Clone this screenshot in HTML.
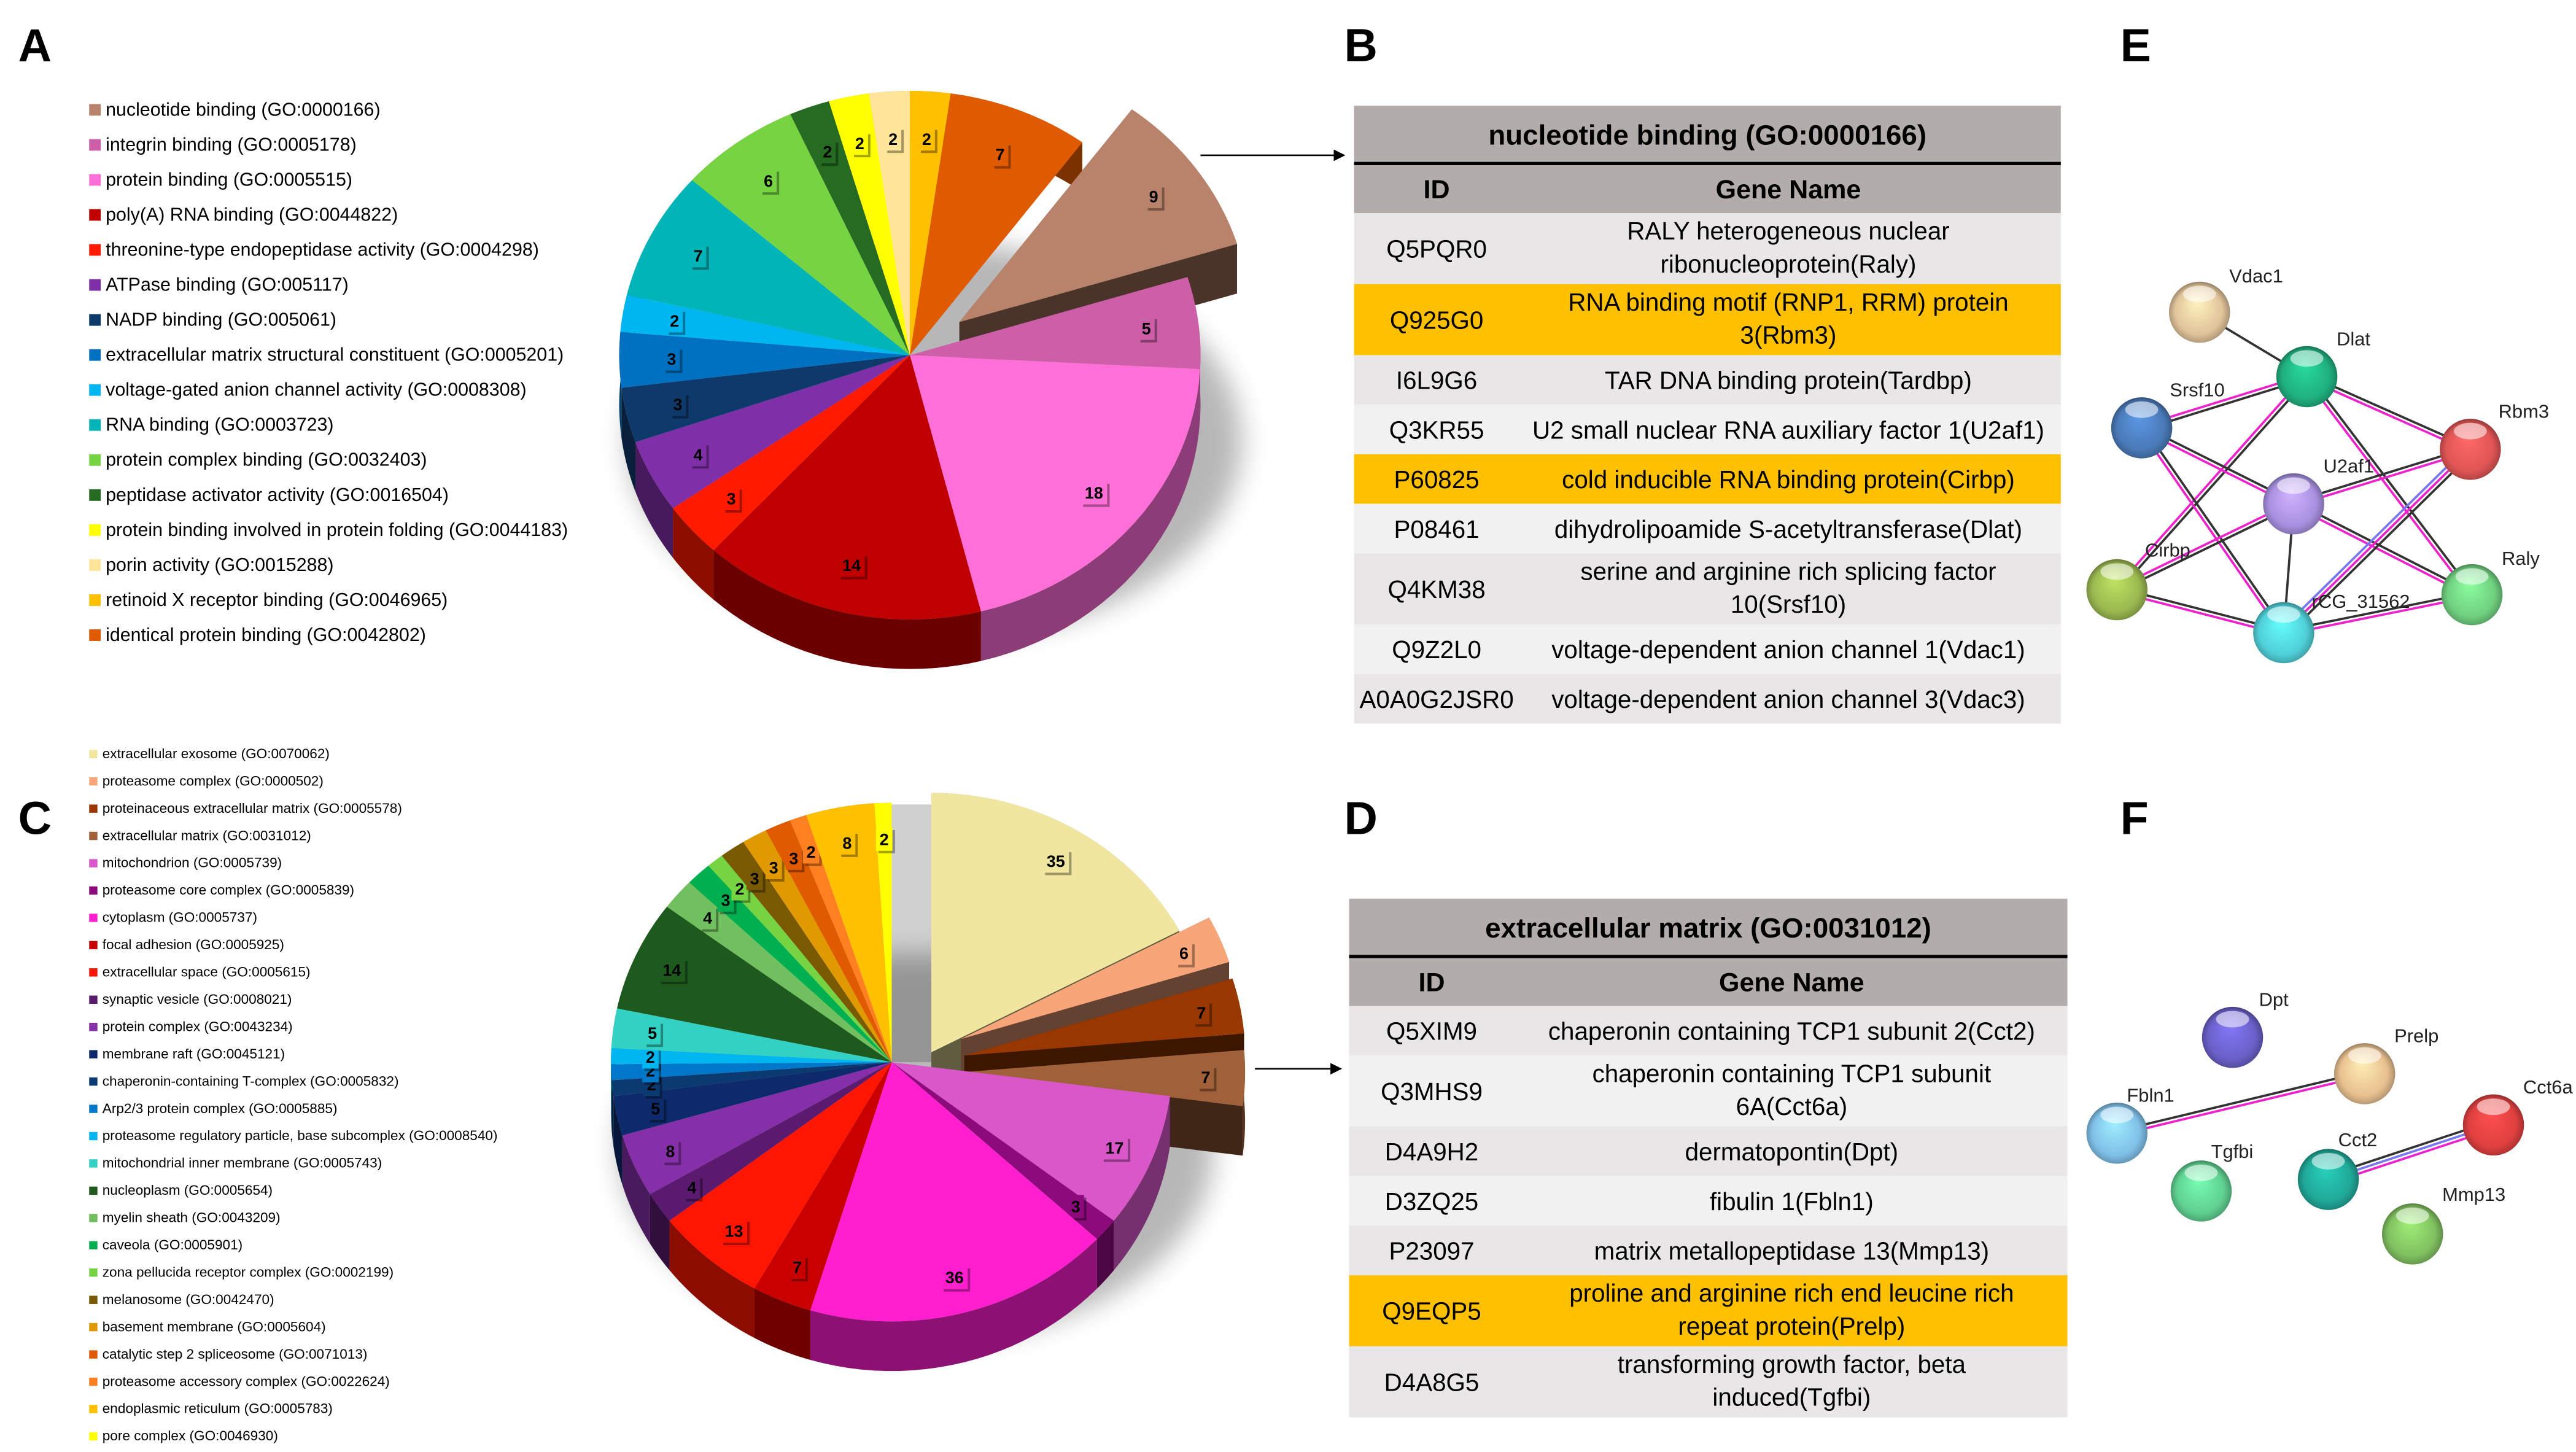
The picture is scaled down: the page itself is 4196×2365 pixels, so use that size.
<!DOCTYPE html>
<html><head><meta charset="utf-8">
<style>
html,body{margin:0;padding:0;background:#fff;}
svg{display:block;}
text{font-family:"Liberation Sans",sans-serif;}
</style></head>
<body>
<svg id="fig" xmlns="http://www.w3.org/2000/svg" width="4196" height="2365" viewBox="0 0 1560 879" preserveAspectRatio="none">
<defs>
<filter id="blur" x="-20%" y="-20%" width="140%" height="140%"><feGaussianBlur stdDeviation="8"/></filter>
<marker id="arr" viewBox="0 0 10 10" refX="9" refY="5" markerWidth="7" markerHeight="7" orient="auto"><path d="M0,0 L10,5 L0,10 z" fill="#000"/></marker>
</defs>
<g font-weight="bold" font-size="28" fill="#000">
<text x="11" y="37">A</text>
<text x="814" y="37">B</text>
<text x="1284" y="37">E</text>
<text x="11" y="505">C</text>
<text x="814" y="505">D</text>
<text x="1284" y="505">F</text>
</g>
<line x1="727" y1="94" x2="814" y2="94" stroke="#000" stroke-width="1" marker-end="url(#arr)"/>
<line x1="760" y1="647" x2="812" y2="647" stroke="#000" stroke-width="1" marker-end="url(#arr)"/>
<g id="pieA"></g>
<g id="legA"></g>
<g id="pieC"></g>
<g id="legC"></g>
<g id="tabB"></g>
<g id="tabD"></g>
<g id="netE"></g>
<g id="netF"></g>
</svg>
<script>
const NS="http://www.w3.org/2000/svg";
// ---------- Pie A data ----------
const catsA=["nucleotide binding (GO:0000166)","integrin binding (GO:0005178)","protein binding (GO:0005515)","poly(A) RNA binding (GO:0044822)","threonine-type endopeptidase activity (GO:0004298)","ATPase binding (GO:005117)","NADP binding (GO:005061)","extracellular matrix structural constituent (GO:0005201)","voltage-gated anion channel activity (GO:0008308)","RNA binding (GO:0003723)","protein complex binding (GO:0032403)","peptidase activator activity (GO:0016504)","protein binding involved in protein folding (GO:0044183)","porin activity (GO:0015288)","retinoid X receptor binding (GO:0046965)","identical protein binding (GO:0042802)"];
const valsA=[9,5,18,14,3,4,3,3,2,7,6,2,2,2,2,7];
const colsA=["#b8836a","#cc5fa8","#ff6fd8","#c00000","#ff1a00","#7f2fa8","#0e3a6b","#0070c0","#00b6f0","#00b4b8","#76d443","#266b22","#ffff00","#ffe599","#ffc000","#e05a00"];
// ---------- Pie C data ----------
const catsC=["extracellular exosome (GO:0070062)","proteasome complex (GO:0000502)","proteinaceous extracellular matrix (GO:0005578)","extracellular matrix (GO:0031012)","mitochondrion (GO:0005739)","proteasome core complex (GO:0005839)","cytoplasm (GO:0005737)","focal adhesion (GO:0005925)","extracellular space (GO:0005615)","synaptic vesicle (GO:0008021)","protein complex (GO:0043234)","membrane raft (GO:0045121)","chaperonin-containing T-complex (GO:0005832)","Arp2/3 protein complex (GO:0005885)","proteasome regulatory particle, base subcomplex (GO:0008540)","mitochondrial inner membrane (GO:0005743)","nucleoplasm (GO:0005654)","myelin sheath (GO:0043209)","caveola (GO:0005901)","zona pellucida receptor complex (GO:0002199)","melanosome (GO:0042470)","basement membrane (GO:0005604)","catalytic step 2 spliceosome (GO:0071013)","proteasome accessory complex (GO:0022624)","endoplasmic reticulum (GO:0005783)","pore complex (GO:0046930)"];
const valsC=[35,6,7,7,17,3,36,7,13,4,8,5,2,2,2,5,14,4,3,2,3,3,3,2,8,2];
const colsC=["#f0e6a0","#f8a57a","#983800","#a0603a","#d957c9","#8c0a7c","#ff1fcf","#c80000","#ff1500","#5a1a6e","#8530a8","#0d2a6b","#0b3a70","#0077c8","#00b6f0","#33d1c4","#1e5a1e","#70c060","#00b050","#76d443","#7a5a00","#e09a00","#e05a00","#ff8020","#ffc000","#ffff00"];

function mk(tag,attrs,parent){const e=document.createElementNS(NS,tag);for(const k in attrs)e.setAttribute(k,attrs[k]);parent.appendChild(e);return e;}
function shade(hex,f){const n=parseInt(hex.slice(1),16);let r=(n>>16)&255,g=(n>>8)&255,b=n&255;r=Math.min(255,Math.round(r*f));g=Math.min(255,Math.round(g*f));b=Math.min(255,Math.round(b*f));return "rgb("+r+","+g+","+b+")";}

function drawPie(g,vals,cols,o){
  const total=vals.reduce((a,b)=>a+b,0);
  const sh=mk("ellipse",{cx:o.cx+15,cy:o.cy+o.depth+22,rx:o.rx+10,ry:o.ry*0.75,fill:"#000",opacity:0.28,filter:"url(#blur)"},g);
  
  
  const ang=a=>a*Math.PI/180;
  const P=(a,dx,dy,yo)=>[o.cx+dx+o.rx*Math.sin(ang(a)),o.cy+dy+yo-o.ry*Math.cos(ang(a))];
  let a0=o.start;const sl=[];
  vals.forEach((v,i)=>{const a1=a0+v/total*360;sl.push([a0,a1]);a0=a1;});
  const sides=mk("g",{},g);
  
  
  const tops=mk("g",{},g);
  
  
  vals.forEach((v,i)=>{
    const [s,e]=sl[i];const ex=o.explode[i]||[0,0];const dx=ex[0],dy=ex[1];
    const n=24;let d="";
    for(let k=0;k<=n;k++){const p=P(s+(e-s)*k/n,dx,dy,0);d+=(k?"L":"M")+p[0].toFixed(2)+","+p[1].toFixed(2);}
    for(let k=n;k>=0;k--){const p=P(s+(e-s)*k/n,dx,dy,o.depth);d+="L"+p[0].toFixed(2)+","+p[1].toFixed(2);}
    const sw=mk("path",{d:d+"Z",fill:shade(cols[i],0.55)},sides);
    
    
    if(o.explode[i]){
      const c0=[o.cx+dx,o.cy+dy],p0=P(s,dx,dy,0),p1=P(e,dx,dy,0);
      const w1=mk("path",{d:`M${c0[0]},${c0[1]}L${p0[0]},${p0[1]}L${p0[0]},${p0[1]+o.depth}L${c0[0]},${c0[1]+o.depth}Z`,fill:shade(cols[i],0.45)},sides);
      
      
      const w2=mk("path",{d:`M${c0[0]},${c0[1]}L${p1[0]},${p1[1]}L${p1[0]},${p1[1]+o.depth}L${c0[0]},${c0[1]+o.depth}Z`,fill:shade(cols[i],0.4)},sides);
      
      
    }
    let t=`M${o.cx+dx},${o.cy+dy}`;
    for(let k=0;k<=n;k++){const p=P(s+(e-s)*k/n,dx,dy,0);t+="L"+p[0].toFixed(2)+","+p[1].toFixed(2);}
    const tp=mk("path",{d:t+"Z",fill:cols[i]},tops);
    
    
    const m=(s+e)/2;const r=o.lr;
    const lx=o.cx+dx+o.rx*r*Math.sin(ang(m)),ly=o.cy+dy-o.ry*r*Math.cos(ang(m));
    const w=String(v).length*6+4;
    const bx=mk("rect",{x:lx-w/2+1.5,y:ly-7+1.5,width:w,height:14,fill:"#000",opacity:0.35},tops);
    
    
    const b2=mk("rect",{x:lx-w/2,y:ly-7,width:w,height:14,fill:cols[i]},tops);
    
    
    const tx=mk("text",{x:lx,y:ly+3.5,"text-anchor":"middle","font-size":10,"font-weight":"bold",fill:"#000"},tops);
    tx.textContent=v;
    
    
  });
}
function drawLegend(g,cats,cols,x,y0,dy,fs,sq){
  cats.forEach((c,i)=>{
    const r=mk("rect",{x:x,y:y0+i*dy-sq+1,width:sq,height:sq,fill:cols[i]},g);
    
    
    const t=mk("text",{x:x+sq+3,y:y0+i*dy+1,"font-size":fs,fill:"#000"},g);
    t.textContent=c;
    
    
  });
}
drawPie(document.getElementById("pieA"),valsA,colsA,{cx:551,cy:215,rx:176,ry:160,depth:30,start:36.4,lr:0.82,explode:{0:[30,-20]}});
drawLegend(document.getElementById("legA"),catsA,colsA,54,69,21.2,11.3,7);
const gapC=mk("path",{d:"M540,643 L540,487 L566,487 L566,643 Z",fill:"#d0d0d0"},document.getElementById("pieC"));


drawPie(document.getElementById("pieC"),valsC,colsC,{cx:540,cy:643,rx:170,ry:157,depth:30,start:0,lr:0.86,explode:{0:[24,-6],1:[42,-14],2:[44,-4],3:[44,6]}});
drawLegend(document.getElementById("legC"),catsC,colsC,54,458,16.52,8.4,5);

function drawTable(g,x,w,title,hy,rows,idc,gnc){
  const hdr=mk("rect",{x:x,y:hy[0],width:w,height:hy[1]-hy[0],fill:"#b2adaa"},g);
  
  
  const tt=mk("text",{x:x+w/2,y:(hy[0]+hy[1])/2+6,"text-anchor":"middle","font-size":17,"font-weight":"bold"},g);
  tt.textContent=title;
  
  
  const ln=mk("rect",{x:x,y:hy[1]-1,width:w,height:2,fill:"#000"},g);
  
  
  const ch=mk("rect",{x:x,y:hy[1]+1,width:w,height:hy[2]-hy[1]-1,fill:"#b2adaa"},g);
  
  
  const c1=mk("text",{x:idc,y:(hy[1]+hy[2])/2+6,"text-anchor":"middle","font-size":16,"font-weight":"bold"},g);
  c1.textContent="ID";
  
  
  const c2=mk("text",{x:gnc,y:(hy[1]+hy[2])/2+6,"text-anchor":"middle","font-size":16,"font-weight":"bold"},g);
  c2.textContent="Gene Name";
  
  
  let y=hy[2];
  rows.forEach((r,i)=>{
    const h=r.lines.length>1?43:30;
    const fill=r.hl?"#ffc000":(i%2==0?"#e8e6e6":"#f1f1f1");
    const bg=mk("rect",{x:x,y:y,width:w,height:h,fill:fill},g);
    
    
    const id=mk("text",{x:idc,y:y+h/2+5.5,"text-anchor":"middle","font-size":15},g);
    id.textContent=r.id;
    
    
    r.lines.forEach((l,k)=>{
      const ty=r.lines.length>1?y+16+k*20:y+h/2+5.5;
      const t=mk("text",{x:gnc,y:ty,"text-anchor":"middle","font-size":15},g);
      t.textContent=l;
      
      
    });
    y+=h;
  });
}
drawTable(document.getElementById("tabB"),820,428,"nucleotide binding  (GO:0000166)",[64,99,129],[
 {id:"Q5PQR0",lines:["RALY heterogeneous nuclear","ribonucleoprotein(Raly)"]},
 {id:"Q925G0",lines:["RNA binding motif (RNP1, RRM) protein","3(Rbm3)"],hl:1},
 {id:"I6L9G6",lines:["TAR DNA binding protein(Tardbp)"]},
 {id:"Q3KR55",lines:["U2 small nuclear RNA auxiliary factor 1(U2af1)"]},
 {id:"P60825",lines:["cold inducible RNA binding protein(Cirbp)"],hl:1},
 {id:"P08461",lines:["dihydrolipoamide S-acetyltransferase(Dlat)"]},
 {id:"Q4KM38",lines:["serine and arginine rich splicing factor","10(Srsf10)"]},
 {id:"Q9Z2L0",lines:["voltage-dependent anion channel 1(Vdac1)"]},
 {id:"A0A0G2JSR0",lines:["voltage-dependent anion channel 3(Vdac3)"]}],870,1083);
drawTable(document.getElementById("tabD"),817,435,"extracellular matrix (GO:0031012)",[544,579,609],[
 {id:"Q5XIM9",lines:["chaperonin containing TCP1 subunit 2(Cct2)"]},
 {id:"Q3MHS9",lines:["chaperonin containing TCP1 subunit","6A(Cct6a)"]},
 {id:"D4A9H2",lines:["dermatopontin(Dpt)"]},
 {id:"D3ZQ25",lines:["fibulin 1(Fbln1)"]},
 {id:"P23097",lines:["matrix metallopeptidase 13(Mmp13)"]},
 {id:"Q9EQP5",lines:["proline and arginine rich end leucine rich","repeat protein(Prelp)"],hl:1},
 {id:"D4A8G5",lines:["transforming growth factor, beta","induced(Tgfbi)"]}],867,1085);

let gid=0;
function drawNet(g,nodes,edges){
  const eg=mk("g",{},g);
  
  
  edges.forEach(e=>{
    const a=nodes[e[0]],b=nodes[e[1]];
    const dx=b.x-a.x,dy=b.y-a.y,L=Math.hypot(dx,dy),nx=-dy/L,ny=dx/L;
    e[2].forEach((c,k)=>{
      const off=(k-(e[2].length-1)/2)*2.4;
      const l=mk("line",{x1:a.x+nx*off,y1:a.y+ny*off,x2:b.x+nx*off,y2:b.y+ny*off,stroke:c,"stroke-width":1.4},eg);
      
      
    });
  });
  for(const k in nodes){
    const n=nodes[k];gid++;
    const gr=mk("radialGradient",{id:"sg"+gid,cx:"50%",cy:"55%",r:"55%",fx:"45%",fy:"30%"},document.querySelector("defs"));
    mk("stop",{offset:"0%",  "stop-color":shade(n.c,1.25)},gr);
    mk("stop",{offset:"70%","stop-color":n.c},gr);
    mk("stop",{offset:"100%","stop-color":shade(n.c,0.65)},gr);
    const c=mk("circle",{cx:n.x,cy:n.y,r:18.5,fill:"url(#sg"+gid+")"},g);
    
    
    const hl=mk("ellipse",{cx:n.x,cy:n.y-11,rx:10,ry:5,fill:"#fff",opacity:0.55},g);
    
    
    const t=mk("text",{x:n.x+n.lx,y:n.y+n.ly,"font-size":11.5,fill:"#222"},g);
    t.textContent=k;
    
    
  }
}
const M="#ee22cc",K="#333",BL="#7777ee";
drawNet(document.getElementById("netE"),{
 "Vdac1":{x:1332,y:189,c:"#e0c49a",lx:18,ly:-18},
 "Dlat":{x:1397,y:228,c:"#20b080",lx:18,ly:-19},
 "Srsf10":{x:1297,y:259,c:"#4a7ab8",lx:17,ly:-19},
 "Rbm3":{x:1496,y:272,c:"#e05555",lx:17,ly:-19},
 "U2af1":{x:1389,y:305,c:"#a890e0",lx:18,ly:-19},
 "Cirbp":{x:1282,y:357,c:"#9ab850",lx:17,ly:-20},
 "Raly":{x:1497,y:360,c:"#70d080",lx:18,ly:-18},
 "rCG_31562":{x:1383,y:383,c:"#50d0d8",lx:17,ly:-15}
},[["Vdac1","Dlat",[K]],["Dlat","Srsf10",[K,M]],["Dlat","Rbm3",[K,M]],["Dlat","Cirbp",[K,M]],["Dlat","Raly",[K,M]],
 ["Srsf10","U2af1",[K,M]],["Srsf10","rCG_31562",[K,M]],["U2af1","Rbm3",[K,M]],["U2af1","Cirbp",[K,M]],["U2af1","Raly",[K,M]],
 ["U2af1","rCG_31562",[K]],["Rbm3","rCG_31562",[K,M,BL]],["Cirbp","rCG_31562",[K,M]],["rCG_31562","Raly",[K,M]]]);
drawNet(document.getElementById("netF"),{
 "Dpt":{x:1352,y:628,c:"#6a60c8",lx:16,ly:-19},
 "Prelp":{x:1432,y:650,c:"#e8c090",lx:18,ly:-19},
 "Fbln1":{x:1282,y:686,c:"#80c0e8",lx:6,ly:-19},
 "Cct6a":{x:1510,y:681,c:"#e04040",lx:18,ly:-19},
 "Tgfbi":{x:1333,y:721,c:"#60d090",lx:6,ly:-20},
 "Cct2":{x:1410,y:714,c:"#20a898",lx:6,ly:-20},
 "Mmp13":{x:1461,y:747,c:"#80c060",lx:18,ly:-20}
},[["Fbln1","Prelp",[K,M]],["Cct2","Cct6a",[K,BL,M]]]);
</script>
</body></html>
